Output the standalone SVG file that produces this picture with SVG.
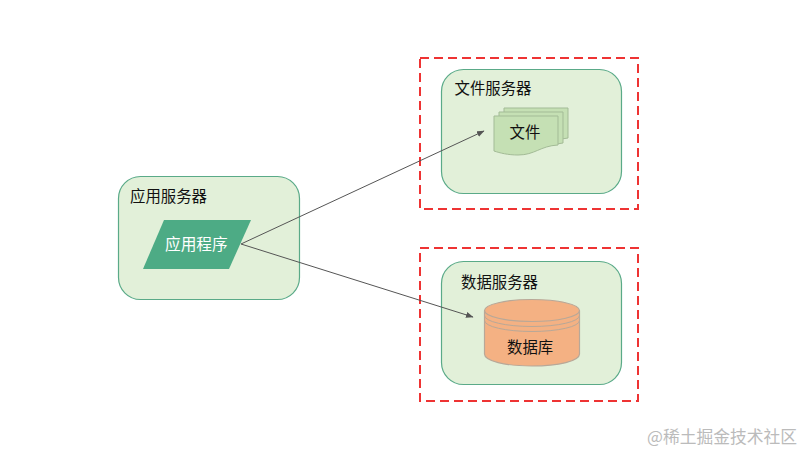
<svg xmlns="http://www.w3.org/2000/svg" width="804" height="452" viewBox="0 0 804 452">
<style>
text{font-family:"Noto Sans CJK SC","Liberation Sans",sans-serif;font-size:15.400px;fill:#111}
.srv{fill:#e2f0d9;stroke:#5aaa88;stroke-width:1.200}
.dash{fill:none;stroke:#ee3333;stroke-width:2;stroke-dasharray:9 5}
.doc{fill:#c5e0b4;stroke:#a3bb96;stroke-width:1}
.db{fill:#f4b183;stroke:#b8a898;stroke-width:1.200}
.conn{fill:none;stroke:#555;stroke-width:1;marker-end:url(#arr)}
</style>
<defs>
<marker id="arr" markerWidth="8" markerHeight="8" refX="7" refY="3" orient="auto" markerUnits="userSpaceOnUse"><path d="M0 0L7.500 3L0 6Z" fill="#555"/></marker>
</defs>
<rect width="804" height="452" fill="#fff"/>
<g id="file-region"><rect class="dash" x="420" y="58" width="218" height="151"/></g>
<g id="db-region"><rect class="dash" x="420" y="248" width="218" height="153"/></g>
<g id="app-server"><rect class="srv" x="118.500" y="176.500" width="181" height="123" rx="22"/><text x="130" y="201.500">应用服务器</text></g>
<g id="file-server"><rect class="srv" x="441.500" y="69.500" width="180" height="124" rx="22"/><text x="454.500" y="93.500">文件服务器</text></g>
<g id="db-server"><rect class="srv" x="441.500" y="261.500" width="180" height="123" rx="22"/><text x="461" y="287.500">数据服务器</text></g>
<g id="app"><path d="M164 220H251L229 269H143Z" fill="#4dab85"/><text x="165" y="250" style="fill:#fff;font-size:15.700px">应用程序</text></g>
<g id="file">
<path class="doc" d="M504 108H568V138Q560 139 552 141L504 141Z"/>
<path class="doc" d="M499 112H563V143Q555 144 547 146L499 146Z"/>
<path class="doc" d="M494 116H558V145C540 146 535 155 518 155C508 155 500 153 494 151Z"/>
<text x="509.500" y="137.500">文件</text>
</g>
<g id="database">
<path class="db" d="M484.500 311V354C484.500 361 505 366 532 366S579.500 361 579.500 354V311Z"/>
<ellipse class="db" cx="532" cy="310.500" rx="47.500" ry="11"/>
<path d="M484.500 315.500A47.500 11 0 0 0 579.500 315.500M484.500 320.500A47.500 11 0 0 0 579.500 320.500" fill="none" stroke="#b8a898" stroke-width="1"/>
<text x="507" y="352.500">数据库</text>
</g>
<g id="connectors">
<path class="conn" d="M241 244L484 131"/>
<path class="conn" d="M241 244L473 317"/>
</g>
<text x="647" y="442.500" style="font-size:16.800px;fill:#bbb">@稀土掘金技术社区</text>
</svg>
